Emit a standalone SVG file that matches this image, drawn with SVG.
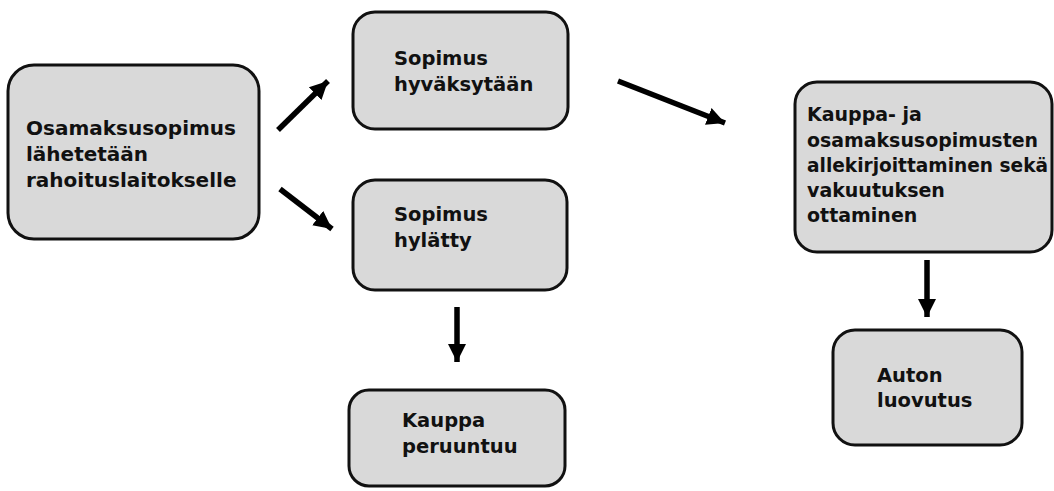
<svg xmlns="http://www.w3.org/2000/svg" width="1054" height="491" viewBox="0 0 1054 491">
<style>
.box{fill:#d9d9d9;stroke:#111;stroke-width:3}
.t{font-family:"DejaVu Sans","Liberation Sans",sans-serif;font-weight:bold;font-size:19.5px;fill:#111}
.b1{font-size:20px}
.b5{font-size:19px}
.c{stroke:#000;stroke-width:5.5;fill:none;marker-end:url(#ah)}
</style>
<defs>
<marker id="ah" markerUnits="userSpaceOnUse" markerWidth="20" markerHeight="20" refX="18" refY="10" orient="auto">
<path d="M0,1 L18,10 L0,19 Z" fill="#000"/>
</marker>
</defs>
<rect width="1054" height="491" fill="#fff"/>
<g id="n1">
<rect class="box" x="8" y="65" width="251" height="174" rx="26"/>
<text class="t b1" x="26" y="135">Osamaksusopimus</text>
<text class="t b1" x="26" y="161">lähetetään</text>
<text class="t b1" x="26" y="187">rahoituslaitokselle</text>
</g>
<g id="n2">
<rect class="box" x="353" y="12" width="215" height="117" rx="22"/>
<text class="t" x="394" y="65">Sopimus</text>
<text class="t" x="394" y="91">hyväksytään</text>
</g>
<g id="n3">
<rect class="box" x="353" y="180" width="214" height="110" rx="22"/>
<text class="t" x="394" y="221">Sopimus</text>
<text class="t" x="394" y="247">hylätty</text>
</g>
<g id="n4">
<rect class="box" x="349" y="390" width="216" height="96" rx="20"/>
<text class="t" x="402" y="427">Kauppa</text>
<text class="t" x="402" y="453">peruuntuu</text>
</g>
<g id="n5">
<rect class="box" x="795" y="82" width="257" height="170" rx="22"/>
<text class="t b5" x="807" y="121">Kauppa- ja</text>
<text class="t b5" x="807" y="147" textLength="231" lengthAdjust="spacingAndGlyphs">osamaksusopimusten</text>
<text class="t b5" x="807" y="172" textLength="241" lengthAdjust="spacingAndGlyphs">allekirjoittaminen sekä</text>
<text class="t b5" x="807" y="197">vakuutuksen</text>
<text class="t b5" x="807" y="222">ottaminen</text>
</g>
<g id="n6">
<rect class="box" x="833" y="330" width="189" height="115" rx="22"/>
<text class="t" x="877" y="382">Auton</text>
<text class="t" x="877" y="407">luovutus</text>
</g>
<g id="connectors">
<line class="c" x1="278" y1="130" x2="328" y2="81"/>
<line class="c" x1="280" y1="189" x2="332" y2="229"/>
<line class="c" x1="618" y1="81" x2="725" y2="123"/>
<line class="c" x1="457" y1="307" x2="457" y2="362"/>
<line class="c" x1="927" y1="260" x2="927" y2="317"/>
</g>
</svg>
